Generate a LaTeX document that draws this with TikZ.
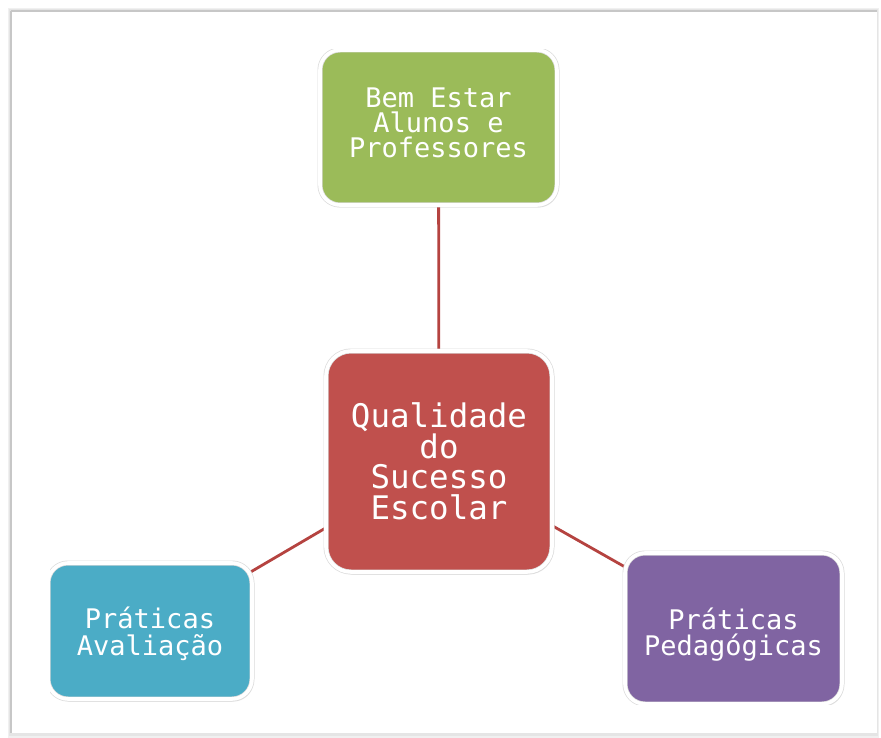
\documentclass[tikz,border=0pt]{standalone}
\usepackage{fontspec}
\setmonofont{DejaVu Sans Mono}
\usetikzlibrary{shadows,backgrounds}
\definecolor{cgreen}{HTML}{9BBB59}
\definecolor{cred}{HTML}{C0504D}
\definecolor{cblue}{HTML}{4BACC6}
\definecolor{cpurple}{HTML}{8064A2}
\definecolor{clink}{HTML}{B54340}
\begin{document}
\begin{tikzpicture}[x=1pt,y=-1pt,
  box/.style={rectangle, rounded corners=20pt, draw=black!14, double=white,
    double distance=3.6pt, line width=0.7pt, inner sep=0pt,
    drop shadow={opacity=0.2, shadow xshift=1.5pt, shadow yshift=-2.5pt}},
  label/.style={text=white, align=center, inner sep=0pt},
  link/.style={draw=clink, line width=2.8pt},
  frameline/.style={draw=black!22, line width=1.6pt}
]
\useasboundingbox (0,0) rectangle (881,738);
\begin{scope}[on background layer]
\fill[white] (0,0) rectangle (881,738);
% frame with soft shadow
\fill[black!6] (8,8) rectangle (879,738);
\fill[black!10] (9,9) rectangle (878,736);
\fill[white] (11,11) rectangle (877,733);
\draw[frameline] (11,11) -- (877,11);
\draw[frameline] (11,11) -- (11,733);
\end{scope}

\begin{scope}
\clip (50,50) rectangle (846,704);
\node[box, fill=cgreen, minimum width=237pt, minimum height=155pt]
  (wellbeing) at (438.5,127.5) {};
\node[box, fill=cred, rounded corners=25pt, minimum width=226pt, minimum height=221pt]
  (quality) at (439,461.5) {};
\node[box, fill=cblue, minimum width=204pt, minimum height=136pt]
  (assessment) at (150,631) {};
\node[box, fill=cpurple, minimum width=217pt, minimum height=151pt]
  (pedagogy) at (733.5,628.5) {};
\end{scope}
\node[label, font=\ttfamily\fontsize{27}{25}\selectfont]
  (wellbeingtext) at ([yshift=5pt]wellbeing.center) {Bem Estar\\Alunos e\\Professores};
\node[label, font=\ttfamily\fontsize{32.5}{30.5}\selectfont]
  (qualitytext) at (quality.center) {Qualidade\\do\\Sucesso\\Escolar};
\node[label, font=\ttfamily\fontsize{27}{27}\selectfont]
  (assessmenttext) at ([yshift=-3pt]assessment.center) {Práticas\\Avaliação};
\node[label, font=\ttfamily\fontsize{27}{26}\selectfont]
  (pedagogytext) at ([yshift=-6pt]pedagogy.center) {Práticas\\Pedagógicas};
\begin{scope}[on background layer]
\clip (50,50) rectangle (846,704);
\draw[link] (wellbeing.center) -- (quality.center);
\draw[link] (quality.center) -- (assessment.center);
\draw[link] (quality.center) -- (pedagogy.center);
\end{scope}
\end{tikzpicture}
\end{document}
